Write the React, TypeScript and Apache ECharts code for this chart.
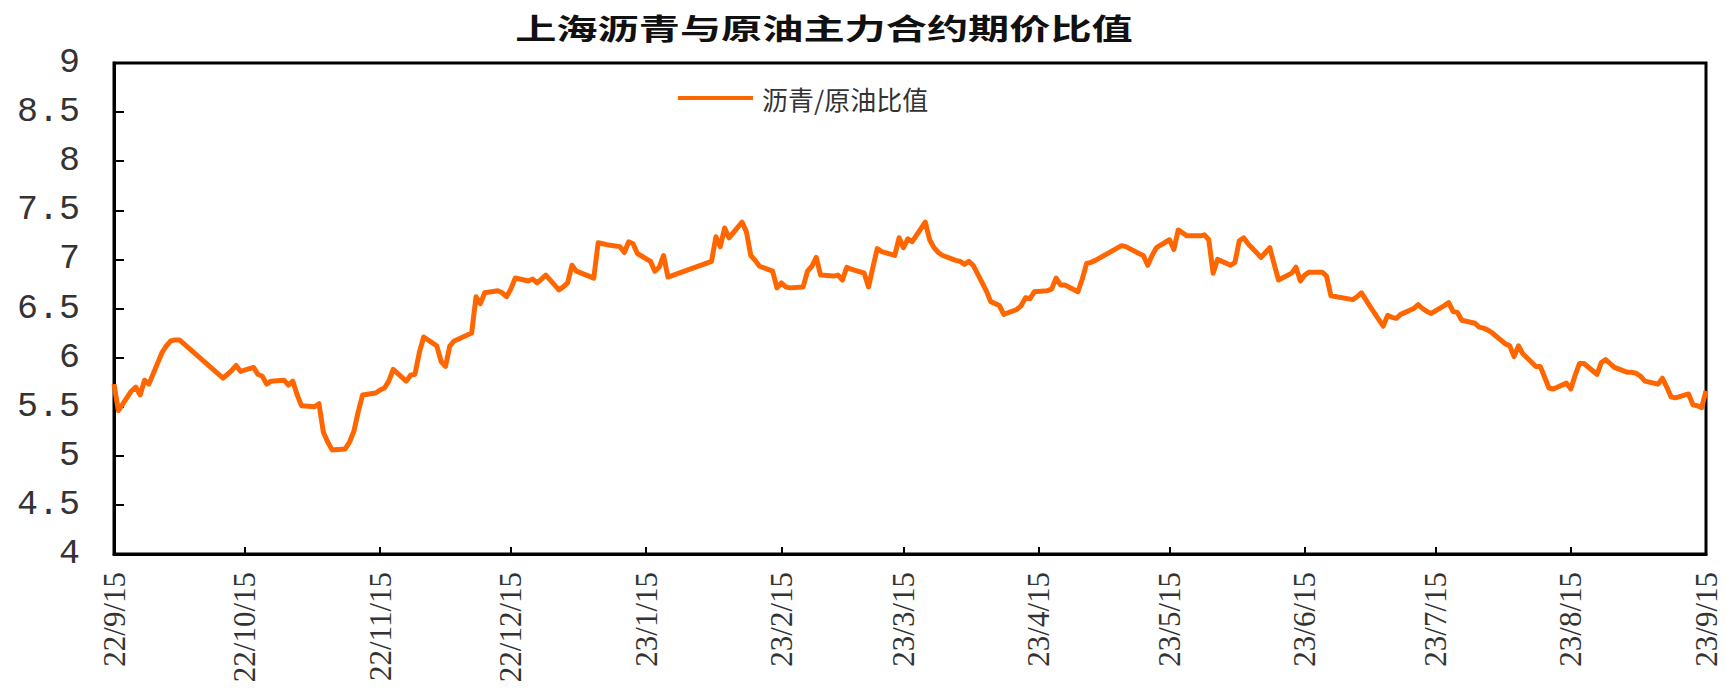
import React, { useEffect, useRef } from "react";
import * as echarts from "echarts";

const TITLE = "上海沥青与原油主力合约期价比值";
const SERIES_NAME = "沥青/原油比值";
const AXIS_START = [2022, 9, 15];
const AXIS_END = [2023, 9, 15];

const tradeDates = [
  "22/9/15","22/9/16","22/9/19","22/9/20","22/9/21","22/9/22","22/9/23","22/9/26","22/9/27","22/9/28","22/9/29","22/9/30",
  "22/10/10","22/10/11","22/10/12","22/10/13","22/10/14","22/10/17","22/10/18","22/10/19","22/10/20","22/10/21","22/10/24","22/10/25","22/10/26","22/10/27","22/10/28","22/10/31",
  "22/11/1","22/11/2","22/11/3","22/11/4","22/11/7","22/11/8","22/11/9","22/11/10","22/11/11","22/11/14","22/11/15","22/11/16","22/11/17","22/11/18","22/11/21","22/11/22","22/11/23","22/11/24","22/11/25","22/11/28","22/11/29","22/11/30",
  "22/12/1","22/12/2","22/12/5","22/12/6","22/12/7","22/12/8","22/12/9","22/12/12","22/12/13","22/12/14","22/12/15","22/12/16","22/12/19","22/12/20","22/12/21","22/12/22","22/12/23","22/12/26","22/12/27","22/12/28","22/12/29","22/12/30",
  "23/1/3","23/1/4","23/1/5","23/1/6","23/1/9","23/1/10","23/1/11","23/1/12","23/1/13","23/1/16","23/1/17","23/1/18","23/1/19","23/1/20",
  "23/1/30","23/1/31",
  "23/2/1","23/2/2","23/2/3","23/2/6","23/2/7","23/2/8","23/2/9","23/2/10","23/2/13","23/2/14","23/2/15","23/2/16","23/2/17","23/2/20","23/2/21","23/2/22","23/2/23","23/2/24","23/2/27","23/2/28",
  "23/3/1","23/3/2","23/3/3","23/3/6","23/3/7","23/3/8","23/3/9","23/3/10","23/3/13","23/3/14","23/3/15","23/3/16","23/3/17","23/3/20","23/3/21","23/3/22","23/3/23","23/3/24","23/3/27","23/3/28","23/3/29","23/3/30","23/3/31",
  "23/4/3","23/4/4","23/4/6","23/4/7","23/4/10","23/4/11","23/4/12","23/4/13","23/4/14","23/4/17","23/4/18","23/4/19","23/4/20","23/4/21","23/4/24","23/4/25","23/4/26","23/4/27","23/4/28",
  "23/5/4","23/5/5","23/5/8","23/5/9","23/5/10","23/5/11","23/5/12","23/5/15","23/5/16","23/5/17","23/5/18","23/5/19","23/5/22","23/5/23","23/5/24","23/5/25","23/5/26","23/5/29","23/5/30","23/5/31",
  "23/6/1","23/6/2","23/6/5","23/6/6","23/6/7","23/6/8","23/6/9","23/6/12","23/6/13","23/6/14","23/6/15","23/6/16","23/6/19","23/6/20","23/6/21","23/6/26","23/6/27","23/6/28","23/6/29","23/6/30",
  "23/7/3","23/7/4","23/7/5","23/7/6","23/7/7","23/7/10","23/7/11","23/7/12","23/7/13","23/7/14","23/7/17","23/7/18","23/7/19","23/7/20","23/7/21","23/7/24","23/7/25","23/7/26","23/7/27","23/7/28","23/7/31",
  "23/8/1","23/8/2","23/8/3","23/8/4","23/8/7","23/8/8","23/8/9","23/8/10","23/8/11","23/8/14","23/8/15","23/8/16","23/8/17","23/8/18","23/8/21","23/8/22","23/8/23","23/8/24","23/8/25","23/8/28","23/8/29","23/8/30","23/8/31",
  "23/9/1","23/9/4","23/9/5","23/9/6","23/9/7","23/9/8","23/9/11","23/9/12","23/9/13","23/9/14","23/9/15",
];

const ratioValues = [
  5.73, 5.46, 5.66, 5.70, 5.62, 5.77, 5.73, 6.05, 6.12, 6.17, 6.18, 6.18,
  5.79, 5.83, 5.87, 5.92, 5.86, 5.90, 5.83, 5.81, 5.73, 5.76, 5.77, 5.72, 5.76, 5.62, 5.51, 5.50,
  5.53, 5.24, 5.14, 5.06, 5.07, 5.14, 5.25, 5.45, 5.62, 5.64, 5.67, 5.69, 5.76, 5.88, 5.76, 5.82, 5.83, 6.05, 6.21, 6.12, 5.96, 5.91,
  6.12, 6.17, 6.23, 6.25, 6.62, 6.55, 6.66, 6.68, 6.66, 6.62, 6.70, 6.81, 6.78, 6.80, 6.76, 6.80, 6.84, 6.69, 6.72, 6.76, 6.94, 6.88,
  6.81, 7.17, 7.16, 7.15, 7.13, 7.07, 7.18, 7.16, 7.06, 6.98, 6.88, 6.92, 7.04, 6.82,
  6.98, 7.23,
  7.13, 7.32, 7.22, 7.38, 7.28, 7.04, 6.99, 6.93, 6.88, 6.71, 6.76, 6.72, 6.71, 6.72, 6.88, 6.93, 7.02, 6.84, 6.83, 6.84,
  6.79, 6.92, 6.90, 6.86, 6.72, 6.92, 7.11, 7.08, 7.04, 7.22, 7.12, 7.21, 7.18, 7.38, 7.20, 7.12, 7.07, 7.04, 6.99, 6.98, 6.95, 6.98, 6.94,
  6.68, 6.57, 6.53, 6.44, 6.49, 6.53, 6.61, 6.60, 6.67, 6.68, 6.70, 6.81, 6.74, 6.74, 6.67, 6.80, 6.96, 6.97, 6.99,
  7.14, 7.13, 7.06, 7.04, 6.94, 7.04, 7.12, 7.20, 7.10, 7.30, 7.27, 7.24, 7.24, 7.25, 7.20, 6.86, 7.00, 6.94, 6.97, 7.19,
  7.22, 7.16, 7.02, 7.07, 7.12, 6.95, 6.79, 6.86, 6.92, 6.78, 6.84, 6.87, 6.87, 6.83, 6.63, 6.59, 6.62, 6.66, 6.59, 6.52,
  6.32, 6.43, 6.41, 6.40, 6.44, 6.50, 6.54, 6.50, 6.47, 6.45, 6.53, 6.56, 6.47, 6.46, 6.38, 6.35, 6.31, 6.30, 6.28, 6.25, 6.14,
  6.12, 6.01, 6.12, 6.04, 5.91, 5.91, 5.80, 5.69, 5.68, 5.74, 5.68, 5.82, 5.94, 5.94, 5.83, 5.95, 5.98, 5.94, 5.90, 5.85, 5.85, 5.84, 5.81,
  5.76, 5.73, 5.79, 5.70, 5.60, 5.59, 5.63, 5.52, 5.51, 5.49, 5.66,
];

function buildCalendar(): string[] {
  const out: string[] = [];
  const start = Date.UTC(AXIS_START[0], AXIS_START[1] - 1, AXIS_START[2]);
  const end = Date.UTC(AXIS_END[0], AXIS_END[1] - 1, AXIS_END[2]);
  for (let t = start; t <= end; t += 86400000) {
    const d = new Date(t);
    out.push(`${d.getUTCFullYear() % 100}/${d.getUTCMonth() + 1}/${d.getUTCDate()}`);
  }
  return out;
}

export default function App() {
  const ref = useRef<HTMLDivElement>(null);

  useEffect(() => {
    if (!ref.current) return;
    const chart = echarts.init(ref.current, undefined, { renderer: "svg" });
    const categories = buildCalendar();
    const lookup: Record<string, number> = {};
    tradeDates.forEach((d, i) => {
      lookup[d] = ratioValues[i];
    });
    const seriesData = categories.map((c) => (c in lookup ? lookup[c] : null));
    const isMonthTick = (_i: number, v: string) => /\/15$/.test(v);

    chart.setOption({
      animation: false,
      backgroundColor: "#ffffff",
      graphic: [
        {
          type: "text",
          x: 824,
          y: 27,
          scaleX: 1.42,
          style: {
            text: TITLE,
            fontSize: 29,
            fontWeight: "bold",
            fontFamily: "Noto Sans CJK SC",
            fill: "#111",
            align: "center",
            verticalAlign: "middle",
            textAlign: "center",
            textVerticalAlign: "middle",
          },
        },
      ],
      legend: {
        data: [SERIES_NAME],
        left: 673,
        top: 80,
        icon: "rect",
        itemWidth: 75,
        itemHeight: 4,
        itemGap: 10,
        textStyle: {
          fontSize: 26,
          color: "#333",
          fontFamily: "Noto Sans CJK SC",
          padding: [0, 0, 0, 4],
        },
      },
      grid: {
        left: 114,
        right: 20,
        top: 63,
        bottom: 137,
        show: true,
        borderColor: "#000",
        borderWidth: 3,
        backgroundColor: "transparent",
      },
      xAxis: {
        type: "category",
        data: categories,
        boundaryGap: false,
        axisLine: { show: true, lineStyle: { color: "#000", width: 3 } },
        axisTick: {
          show: true,
          inside: true,
          length: 7,
          interval: isMonthTick,
          lineStyle: { color: "#000", width: 2 },
        },
        axisLabel: {
          interval: isMonthTick,
          rotate: 90,
          margin: 18,
          fontSize: 31,
          fontFamily: "Liberation Serif",
          color: "#333",
        },
        splitLine: { show: false },
      },
      yAxis: {
        type: "value",
        min: 4,
        max: 9,
        interval: 0.5,
        axisLine: { show: true, lineStyle: { color: "#000", width: 3 } },
        axisTick: {
          show: true,
          inside: true,
          length: 10,
          lineStyle: { color: "#000", width: 2 },
        },
        axisLabel: {
          margin: 34,
          fontSize: 35,
          fontFamily: "Liberation Mono",
          color: "#333",
        },
        splitLine: { show: false },
      },
      series: [
        {
          name: SERIES_NAME,
          type: "line",
          data: seriesData,
          connectNulls: true,
          showSymbol: false,
          symbol: "none",
          lineStyle: { color: "#FF6600", width: 5, join: "round" },
          itemStyle: { color: "#FF6600" },
        },
      ],
    });

    return () => {
      chart.dispose();
    };
  }, []);

  return (
    <div
      ref={ref}
      style={{ position: "absolute", left: 0, top: 0, width: 1726, height: 691 }}
    />
  );
}
